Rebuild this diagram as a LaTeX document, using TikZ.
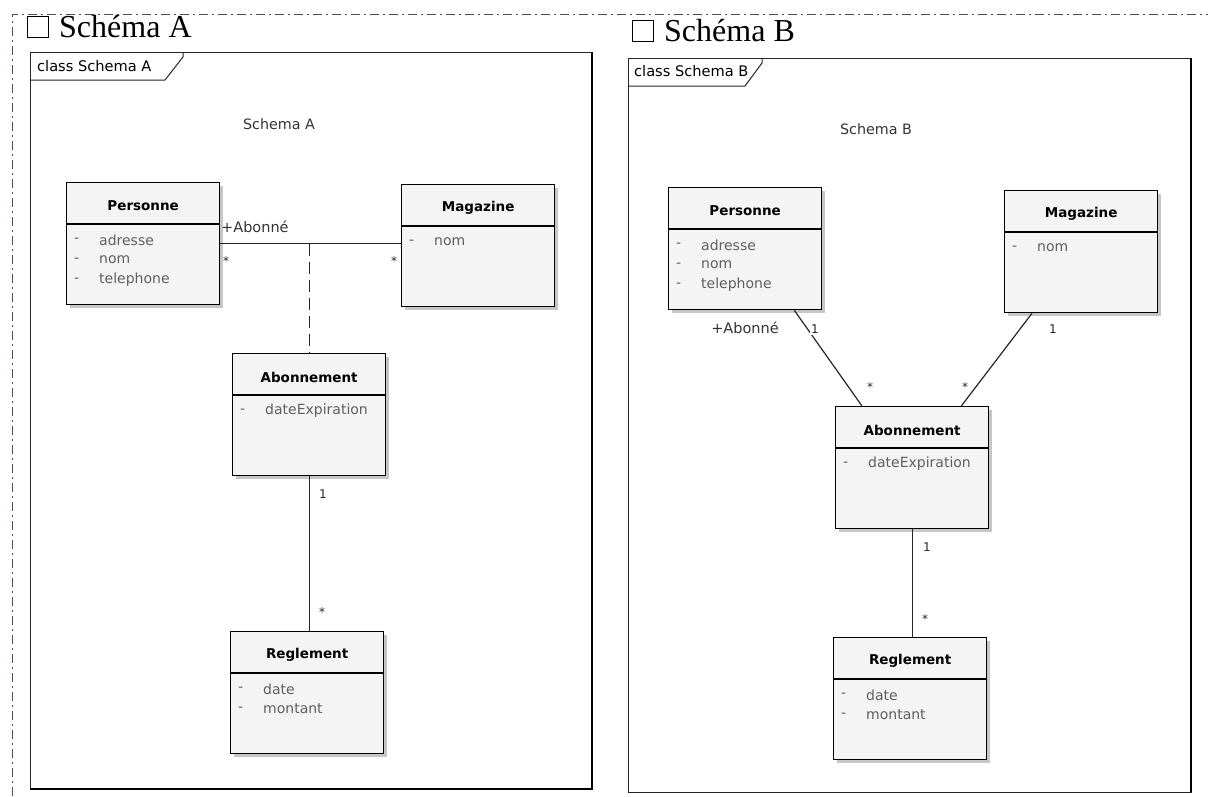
\documentclass[tikz,border=0pt]{standalone}
\usepackage{fontspec}
\setmainfont{Liberation Serif}
\newfontfamily\umlfont{DejaVu Sans}
\usetikzlibrary{shadows,positioning}
\definecolor{scanblue}{RGB}{70,78,110}
\definecolor{attrgray}{RGB}{95,95,95}

\tikzset{
  classbox/.style={draw, line width=1.3pt, fill=gray!9, minimum width=153pt, minimum height=122pt,
    anchor=north west, inner sep=0pt,
    drop shadow={shadow xshift=3pt, shadow yshift=-3pt, fill=gray!45, opacity=1}},
  classtitle/.style={font=\umlfont\bfseries\fontsize{13.5}{16}\selectfont, inner sep=0pt},
  attrtext/.style={font=\umlfont\fontsize{14}{16}\selectfont, text=attrgray, anchor=west, inner sep=0pt},
  tabtext/.style={font=\umlfont\fontsize{14.6}{17}\selectfont, anchor=west, inner sep=0pt},
  labeltext/.style={font=\umlfont\fontsize{14.3}{17}\selectfont, text=black!80, inner sep=0pt},
  roletext/.style={font=\umlfont\fontsize{14.5}{17}\selectfont, text=black!80, inner sep=1pt},
  multtext/.style={font=\umlfont\fontsize{12}{14}\selectfont, text=black!85, inner sep=1.5pt},
  assoc/.style={line width=1.2pt, black!85},
  frameline/.style={line width=1pt, black!85},
  checkbox/.style={draw, line width=1pt, minimum size=21pt, inner sep=0pt, anchor=north west},
  heading/.style={font=\fontsize{32}{36}\selectfont, anchor=west, inner sep=0pt}
}

% one UML class: name, top-left corner, title, attributes
\newcommand{\umlclass}[4]{%
  \node[classbox] (#1) at (#2) {};
  \draw[line width=1.1pt] ([yshift=-42pt]#1.north west) -- ([yshift=-42pt]#1.north east);
  \node[classtitle] (#1-title) at ([yshift=-24pt]#1.north) {#3};
  \foreach \attr [count=\i] in {#4} {
    \node[attrtext] (#1-dash-\i) at ([xshift=8pt,yshift={-38pt-20pt*\i}]#1.north west) {-};
    \node[attrtext] (#1-attr-\i) at ([xshift=33pt,yshift={-38pt-20pt*\i}]#1.north west) {\attr};
  }
}

\begin{document}
\begin{tikzpicture}[x=1pt, y=-1pt]
  \useasboundingbox (0,0) rectangle (1208,796);

  % dashed page border
  \draw[scanblue, line width=1pt, dash pattern=on 9pt off 4pt on 2pt off 4pt] (12,796) -- (12,14) -- (1208,14);

  % headings
  \node[checkbox] (boxA) at (27,16) {};
  \node[heading, right=10pt of boxA] (headA) {Schéma A};
  \node[checkbox] (boxB) at (632,20) {};
  \node[heading, right=10pt of boxB] (headB) {Schéma B};

  % frame A
  \draw[frameline] (30,52) rectangle (592,789);
  \draw[line width=2.6pt] (592,52) -- (592,789) -- (30,789);
  \draw[frameline] (30,80) -- (165,80) -- (183,57) -- (183,52);
  \node[tabtext] (tabA) at (37,66) {class Schema A};
  \node[labeltext] (lblA) at (279,124) {Schema A};

  % frame B
  \draw[frameline] (628,58) rectangle (1191,792);
  \draw[line width=2.6pt] (1191,58) -- (1191,792);
  \draw[frameline] (628,86) -- (745,86) -- (762,63) -- (762,58);
  \node[tabtext] (tabB) at (634,71) {class Schema B};
  \node[labeltext] (lblB) at (876,129) {Schema B};

  % classes of schema A
  \umlclass{persA}{66,182}{Personne}{adresse,nom,telephone}
  \umlclass{magA}{401,184}{Magazine}{nom}
  \umlclass{abonA}{232,353}{Abonnement}{dateExpiration}
  \umlclass{regA}{230,631}{Reglement}{date,montant}

  % associations of schema A
  \draw[assoc] (persA.east) -- (persA.east -| magA.west);
  \coordinate (joinA) at (abonA.north |- persA.east);
  \draw[assoc, dash pattern=on 12pt off 6pt] (joinA) -- (abonA.north);
  \draw[assoc] (abonA.south) -- (abonA.south |- regA.north);
  \node[roletext, anchor=west] (roleA) at (220,227) {+Abonné};
  \node[multtext] (mPersA) at (226,261) {*};
  \node[multtext] (mMagA) at (394,261) {*};
  \node[multtext] (mAbonA) at (323,494) {1};
  \node[multtext] (mRegA) at (322,612) {*};

  % classes of schema B
  \umlclass{persB}{668,187}{Personne}{adresse,nom,telephone}
  \umlclass{magB}{1004,190}{Magazine}{nom}
  \umlclass{abonB}{835,406}{Abonnement}{dateExpiration}
  \umlclass{regB}{833,637}{Reglement}{date,montant}

  % associations of schema B
  \draw[assoc] ([xshift=-28pt]persB.south east) -- ([xshift=27pt]abonB.north west);
  \draw[assoc] ([xshift=28pt]magB.south west) -- ([xshift=-28pt]abonB.north east);
  \draw[assoc] (abonB.south) -- (abonB.south |- regB.north);
  \node[roletext] (roleB) at (745,328) {+Abonné};
  \node[multtext, fill=white] (mPersB) at (815,329) {1};
  \node[multtext] (mAbonB1) at (870,387) {*};
  \node[multtext] (mAbonB2) at (965,387) {*};
  \node[multtext] (mMagB) at (1053,329) {1};
  \node[multtext] (mAbonB3) at (927,547) {1};
  \node[multtext] (mRegB) at (925,619) {*};
\end{tikzpicture}
\end{document}
